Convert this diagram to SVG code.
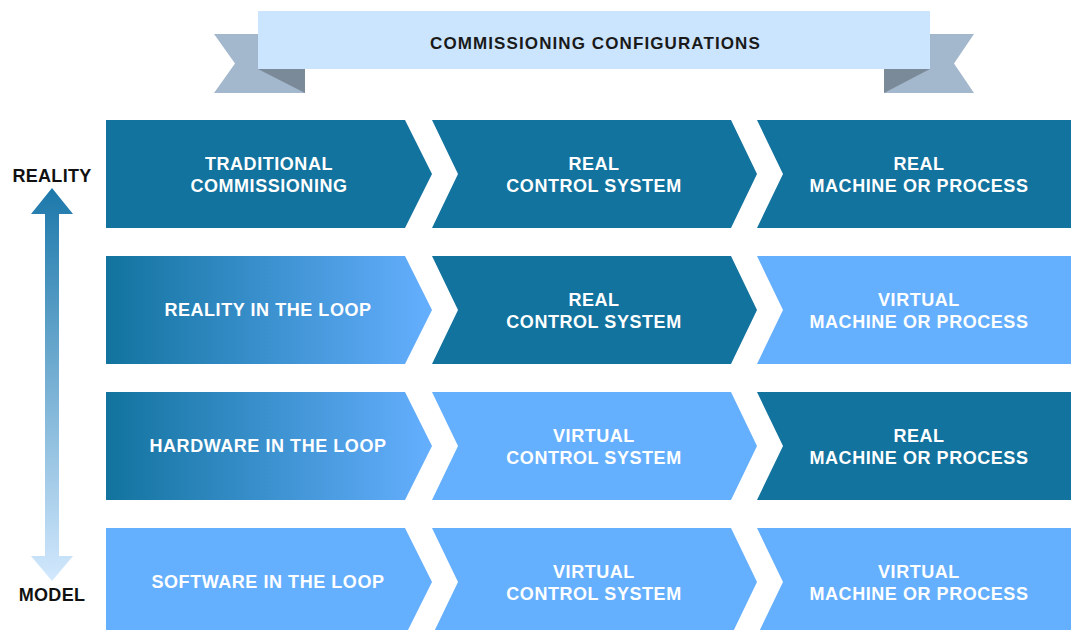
<svg xmlns="http://www.w3.org/2000/svg" width="1071" height="630" viewBox="0 0 1071 630">
  <style>
    .dark { fill: #12739E; }
    .light { fill: #65AFFF; }
    .grad { fill: url(#rowFade); }
    .lbl { font-family: "Liberation Sans", Arial, sans-serif; font-weight: bold; font-size: 18px; letter-spacing: 0.55px; fill: #FFFFFF; text-anchor: middle; }
    .axis { font-family: "Liberation Sans", Arial, sans-serif; font-weight: bold; font-size: 18px; letter-spacing: 0.3px; fill: #111111; text-anchor: middle; }
    .title { font-family: "Liberation Sans", Arial, sans-serif; font-weight: bold; font-size: 17px; letter-spacing: 1.1px; fill: #1A1A1A; text-anchor: middle; }
  </style>
  <defs>
    <linearGradient id="rowFade" x1="0" y1="0" x2="1" y2="0">
      <stop offset="0" stop-color="#12739E"/>
      <stop offset="1" stop-color="#65AFFF"/>
    </linearGradient>
    <linearGradient id="axisFade" gradientUnits="userSpaceOnUse" x1="0" y1="188" x2="0" y2="581">
      <stop offset="0" stop-color="#1C78AA"/>
      <stop offset="1" stop-color="#D2E8FD"/>
    </linearGradient>
  </defs>

  <!-- title ribbon -->
  <g id="title-banner">
    <polygon points="214,34 305,34 305,93 214,93 235,63.5" fill="#A3B8CC"/>
    <polygon points="258,69 305,69 305,93" fill="#7A8A99"/>
    <polygon points="974,34 884,34 884,93 974,93 954,63.5" fill="#A3B8CC"/>
    <polygon points="930,69 884,69 884,93" fill="#7A8A99"/>
    <rect x="258" y="11" width="672" height="58" fill="#CCE5FF"/>
    <text class="title" x="595.5" y="48.7">COMMISSIONING CONFIGURATIONS</text>
  </g>

  <!-- reality / model axis -->
  <g id="axis">
    <polygon points="52,188 73,214 59,214 59,556 73,556 52,581 31,556 45,556 45,214 31,214" fill="url(#axisFade)"/>
    <text class="axis" x="52" y="181.5">REALITY</text>
    <text class="axis" x="52" y="601">MODEL</text>
  </g>

  <!-- row 1 -->
  <g id="row1-config">
    <polygon class="dark" points="106,120 405,120 432,174 405,228 106,228"/>
    <text class="lbl" x="269" y="170">TRADITIONAL</text>
    <text class="lbl" x="269" y="192.3">COMMISSIONING</text>
  </g>
  <g id="row1-control">
    <polygon class="dark" points="432,120 731,120 757,174 731,228 432,228 458,174"/>
    <text class="lbl" x="594" y="170">REAL</text>
    <text class="lbl" x="594" y="192.3">CONTROL SYSTEM</text>
  </g>
  <g id="row1-machine">
    <polygon class="dark" points="757,120 1071,120 1071,228 757,228 783,174"/>
    <text class="lbl" x="919" y="170">REAL</text>
    <text class="lbl" x="919" y="192.3">MACHINE OR PROCESS</text>
  </g>

  <!-- row 2 -->
  <g id="row2-config">
    <polygon class="grad" points="106,256 405,256 432,310 405,364 106,364"/>
    <text class="lbl" x="268" y="315.5">REALITY IN THE LOOP</text>
  </g>
  <g id="row2-control">
    <polygon class="dark" points="432,256 731,256 757,310 731,364 432,364 458,310"/>
    <text class="lbl" x="594" y="305.7">REAL</text>
    <text class="lbl" x="594" y="328.3">CONTROL SYSTEM</text>
  </g>
  <g id="row2-machine">
    <polygon class="light" points="757,256 1071,256 1071,364 757,364 783,310"/>
    <text class="lbl" x="919" y="305.7">VIRTUAL</text>
    <text class="lbl" x="919" y="328.3">MACHINE OR PROCESS</text>
  </g>

  <!-- row 3 -->
  <g id="row3-config">
    <polygon class="grad" points="106,392 405,392 432,446 405,500 106,500"/>
    <text class="lbl" x="268" y="451.5">HARDWARE IN THE LOOP</text>
  </g>
  <g id="row3-control">
    <polygon class="light" points="432,392 731,392 757,446 731,500 432,500 458,446"/>
    <text class="lbl" x="594" y="441.7">VIRTUAL</text>
    <text class="lbl" x="594" y="464.3">CONTROL SYSTEM</text>
  </g>
  <g id="row3-machine">
    <polygon class="dark" points="757,392 1071,392 1071,500 757,500 783,446"/>
    <text class="lbl" x="919" y="441.7">REAL</text>
    <text class="lbl" x="919" y="464.3">MACHINE OR PROCESS</text>
  </g>

  <!-- row 4 -->
  <g id="row4-config">
    <polygon class="light" points="106,528 405,528 432,582 405,636 106,636"/>
    <text class="lbl" x="268" y="587.5">SOFTWARE IN THE LOOP</text>
  </g>
  <g id="row4-control">
    <polygon class="light" points="432,528 731,528 757,582 731,636 432,636 458,582"/>
    <text class="lbl" x="594" y="577.7">VIRTUAL</text>
    <text class="lbl" x="594" y="600.3">CONTROL SYSTEM</text>
  </g>
  <g id="row4-machine">
    <polygon class="light" points="757,528 1071,528 1071,636 757,636 783,582"/>
    <text class="lbl" x="919" y="577.7">VIRTUAL</text>
    <text class="lbl" x="919" y="600.3">MACHINE OR PROCESS</text>
  </g>

  <!-- no connectors in this figure -->
  <g id="connectors"/>
</svg>
